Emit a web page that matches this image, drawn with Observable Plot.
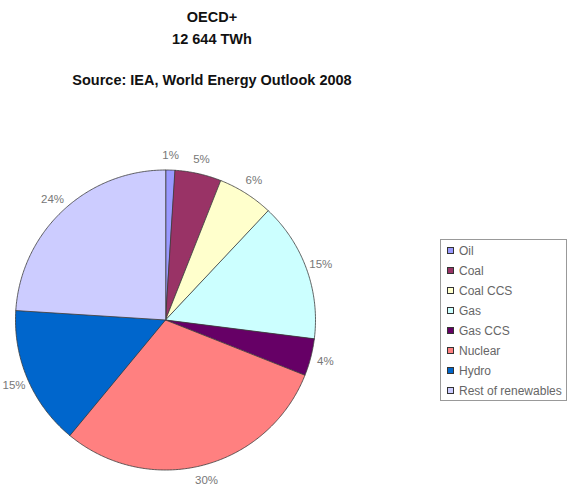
<!DOCTYPE html>
<html>
<head>
<meta charset="utf-8">
<script src="https://cdn.jsdelivr.net/npm/d3@7"></script>
<script src="https://cdn.jsdelivr.net/npm/@observablehq/plot@0.6"></script>
<style>
  html, body { margin: 0; padding: 0; background: #fff; }
  #page { position: relative; width: 572px; height: 487px; overflow: hidden; font-family: "Liberation Sans", Arial, sans-serif; }
  .title { position: absolute; left: 0; width: 424px; text-align: center; font-weight: bold; font-size: 14.5px; color: #111; line-height: 16px; }
  #chart { position: absolute; left: 0; top: 100px; }
  #legend { position: absolute; left: 440px; top: 239px; width: 127px; height: 162px; border: 1px solid #999; box-sizing: border-box; background: #fff; }
  .row { position: absolute; left: 6px; height: 14px; font-size: 12px; color: #666; line-height: 14px; white-space: nowrap; }
  .sw { position: absolute; left: 0; top: 3px; width: 7px; height: 7px; border: 1px solid #333; box-sizing: border-box; }
  .lbl { position: absolute; left: 12px; top: 0; }
</style>
</head>
<body>
<div id="page">
  <div class="title" style="top:9px">OECD+</div>
  <div class="title" style="top:31px">12 644 TWh</div>
  <div class="title" style="top:72px">Source: IEA, World Energy Outlook 2008</div>
  <div id="chart"></div>
  <div id="legend"></div>
</div>
<script>
const categories = ["Oil", "Coal", "Coal CCS", "Gas", "Gas CCS", "Nuclear", "Hydro", "Rest of renewables"];
const shares = [1, 5, 6, 15, 4, 30, 15, 24];
const colors = ["#9999FF", "#993366", "#FFFFCC", "#CCFFFF", "#660066", "#FF8080", "#0066CC", "#CCCCFF"];

const R = 150;
const labelR = 165;

const arcs = d3.pie().sort(null)(shares);
const slicePoints = [];
const labelData = [];
arcs.forEach((a, i) => {
  const cat = categories[i];
  slicePoints.push({cat, x: 0, y: 0});
  const n = Math.max(2, Math.ceil((a.endAngle - a.startAngle) / 0.01));
  for (let k = 0; k <= n; k++) {
    const t = a.startAngle + (a.endAngle - a.startAngle) * k / n;
    slicePoints.push({cat, x: R * Math.sin(t), y: R * Math.cos(t)});
  }
  const m = (a.startAngle + a.endAngle) / 2;
  labelData.push({cat, x: labelR * Math.sin(m), y: labelR * Math.cos(m), text: shares[i] + "%"});
});

const chart = Plot.plot({
  width: 572,
  height: 387,
  margin: 0,
  x: {domain: [-165, 407], axis: null},
  y: {domain: [-167.5, 219.5], axis: null},
  color: {type: "ordinal", domain: categories, range: colors},
  style: {background: "transparent", fontFamily: "Liberation Sans, Arial, sans-serif"},
  marks: [
    Plot.line(slicePoints, {x: "x", y: "y", z: "cat", fill: "cat", stroke: "#3a3a3a", strokeWidth: 0.8, curve: "linear-closed"}),
    Plot.text(labelData, {x: "x", y: "y", text: "text", fontSize: 11.5, fill: "#777"})
  ]
});
document.getElementById("chart").appendChild(chart);

const legend = document.getElementById("legend");
categories.forEach((c, i) => {
  const row = document.createElement("div");
  row.className = "row";
  row.style.top = (4 + i * 20) + "px";
  const sw = document.createElement("div");
  sw.className = "sw";
  sw.style.background = colors[i];
  const lb = document.createElement("span");
  lb.className = "lbl";
  lb.textContent = c;
  row.appendChild(sw);
  row.appendChild(lb);
  legend.appendChild(row);
});
</script>
</body>
</html>
